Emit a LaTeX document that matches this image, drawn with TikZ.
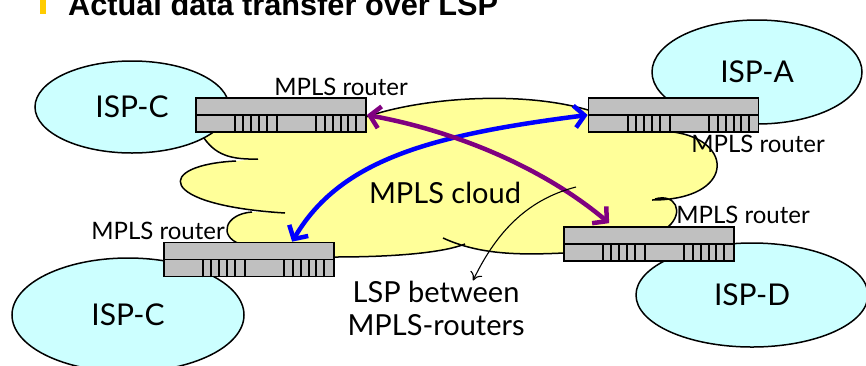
\documentclass[tikz,border=0pt]{standalone}
\usepackage{fontspec}
\setmainfont{Lato}
\newfontfamily\titlefont{Liberation Sans}
\usetikzlibrary{arrows.meta,shapes.geometric}

\definecolor{cloudyellow}{RGB}{255,255,153}
\definecolor{ispcyan}{RGB}{204,255,255}
\definecolor{routergray}{RGB}{192,192,192}
\definecolor{lspblue}{RGB}{0,0,255}
\definecolor{lsppurple}{RGB}{128,0,128}
\definecolor{bulletyellow}{RGB}{255,204,0}

\begin{document}
\begin{tikzpicture}[x=1pt,y=-1pt,
  isp/.style={ellipse,draw,line width=1.5pt,fill=ispcyan,inner sep=0pt,font=\fontsize{30}{34}\selectfont},
  router/.style={rectangle,draw,line width=1.7pt,fill=routergray,minimum width=170pt,minimum height=34pt,inner sep=0pt},
  rlabel/.style={anchor=base,inner sep=0pt,font=\fontsize{24}{28}\selectfont},
  bigtext/.style={inner sep=0pt,font=\fontsize{29}{33}\selectfont},
  lsp/.style={line width=4.5pt,<->,>={Straight Barb[length=10pt,width=22pt]}},
  cloudedge/.style={line width=1.5pt}]

\useasboundingbox (0,0) rectangle (866,365);
\clip (0,0) rectangle (866,365);

% title
\node[fill=bulletyellow,minimum width=6pt,minimum height=16pt,inner sep=0pt] (bullet) at (43,6) {};
\node[anchor=base west,inner sep=0pt,font=\titlefont\bfseries\fontsize{30.7}{34}\selectfont] (title) at (68,15) {Actual data transfer over LSP};

% the cloud
\fill[cloudyellow] (200,132) .. controls (212,152) and (225,160) .. (258,159)
  -- (236,161) .. controls (155,165) and (155,205) .. (285,213)
  -- (252,212) .. controls (225,214) and (218,236) .. (240,244)
  -- (334,257) .. controls (400,257) and (445,252) .. (465,244)
  -- (443,238) .. controls (480,255) and (520,255) .. (564,253)
  -- (668,227) .. controls (685,212) and (675,193) .. (655,199)
  -- (652,200) .. controls (735,200) and (735,140) .. (673,132)
  -- (588,110) .. controls (520,90) and (420,98) .. (366,117) -- cycle;
\draw[cloudedge] (200,132) .. controls (212,152) and (225,160) .. (258,159)
  (236,161) .. controls (155,165) and (155,205) .. (285,213)
  (252,212) .. controls (225,214) and (218,236) .. (240,244)
  (334,257) .. controls (400,257) and (445,252) .. (465,244)
  (443,238) .. controls (480,255) and (520,255) .. (564,253)
  (668,227) .. controls (685,212) and (675,193) .. (655,199)
  (652,200) .. controls (735,200) and (735,140) .. (673,132)
  (588,110) .. controls (520,90) and (420,98) .. (366,117);

% ISPs
\node[isp,minimum width=194pt,minimum height=92pt] (ispC1) at (132,107) {ISP-C};
\node[isp,minimum width=210pt,minimum height=104pt] (ispA) at (757,72) {ISP-A};
\node[isp,minimum width=232pt,minimum height=114pt] (ispC2) at (128,315) {ISP-C};
\node[isp,minimum width=232pt,minimum height=104pt] (ispD) at (752,295) {ISP-D};

% routers
\node[router] (rTL) at (281,115) {};
\node[router] (rTR) at (673.5,115) {};
\node[router] (rBL) at (249,259.5) {};
\node[router] (rBR) at (649,244) {};
\foreach \r in {rTL,rTR,rBL,rBR}{
  \draw[line width=1.7pt] (\r.west) -- (\r.east);
  \foreach \p in {40,48,56,64,72,82,121,130,138,146,153,161}
    \draw[line width=1.7pt] ([xshift=\p pt]\r.south west) -- ([xshift=\p pt]\r.west);
}

\node[rlabel] (lTL) at (341,95) {MPLS router};
\node[rlabel] (lTR) at (758,152) {MPLS router};
\node[rlabel] (lBL) at (158,239) {MPLS router};
\node[rlabel] (lBR) at (743,223) {MPLS router};

\node[bigtext,anchor=base] (cloud) at (445,203) {MPLS cloud};
\node[bigtext,align=center] (lsptext) at (436,308) {LSP between\\MPLS-routers};

% LSPs
\draw[lsp,lspblue] (rTR.west) .. controls (430,135) and (340,160) .. ([xshift=129pt]rBL.north west);
\draw[lsp,lsppurple] (rTL.east) .. controls (450,130) and (540,165) .. ([xshift=46pt,yshift=3pt]rBR.north west);

\coordinate (lspfoot) at (576,187);
\draw[line width=1.1pt,-{To[length=8pt,width=13pt]}] (lspfoot) .. controls (525,200) and (495,235) .. ([xshift=37pt]lsptext.north);

\end{tikzpicture}
\end{document}
